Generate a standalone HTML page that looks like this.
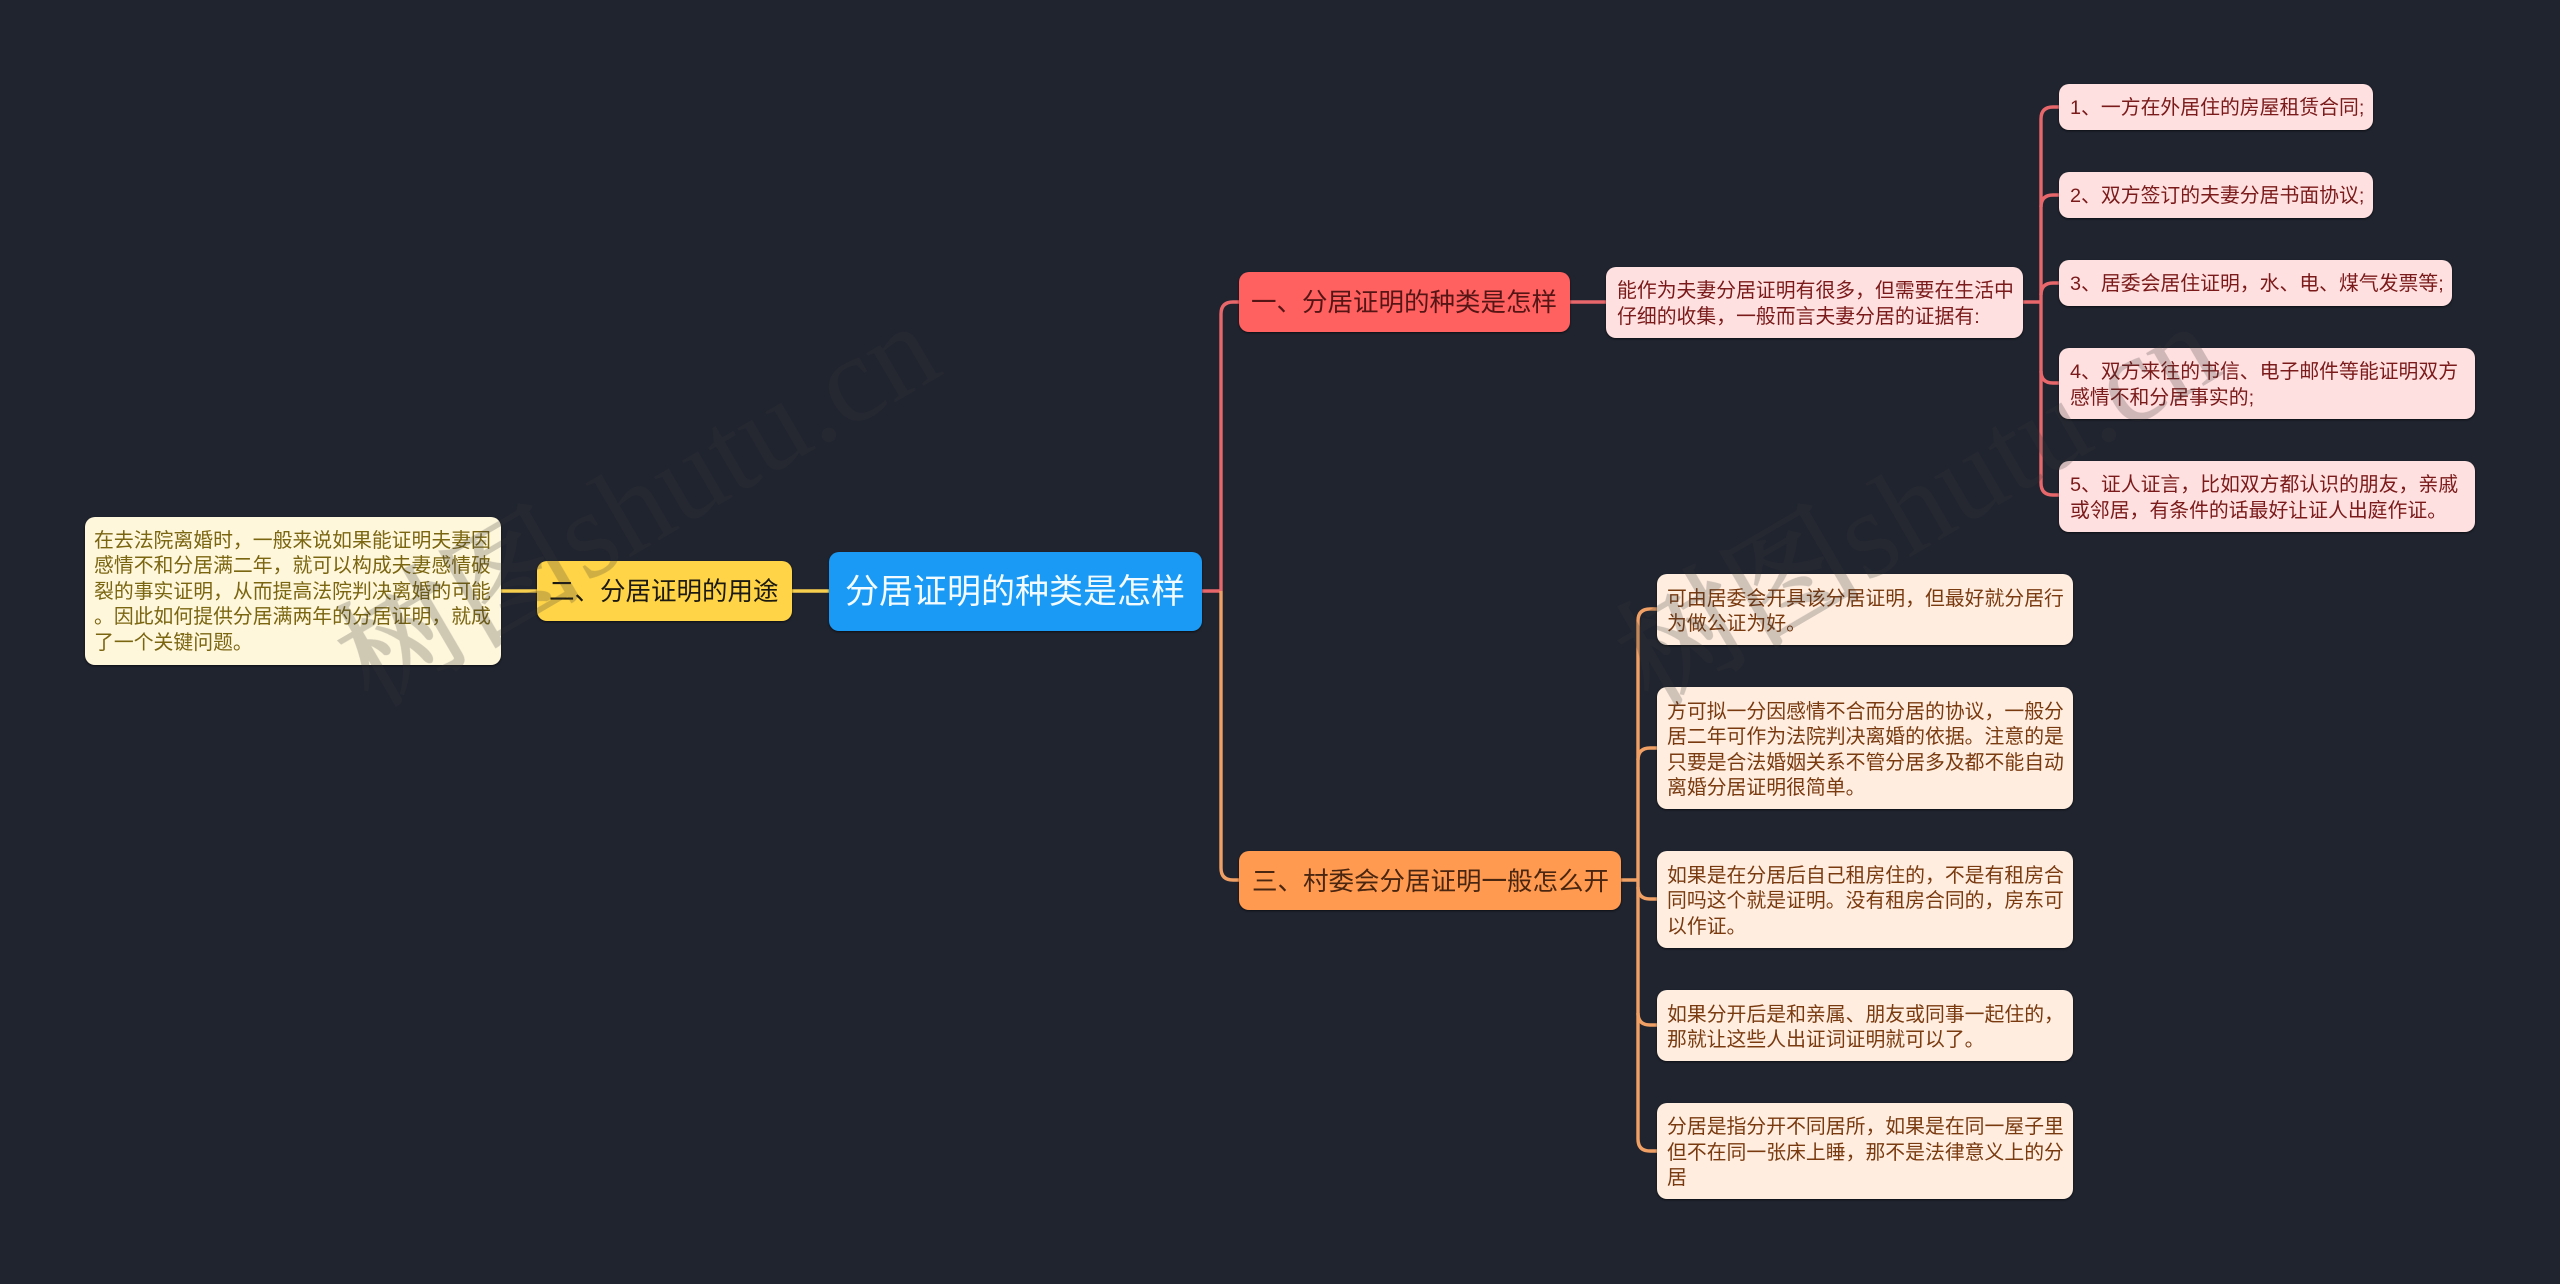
<!DOCTYPE html>
<html lang="zh"><head><meta charset="utf-8"><title>分居证明的种类是怎样</title>
<style>
html,body{margin:0;padding:0;background:#20242f;width:2560px;height:1284px;overflow:hidden}
#c{position:relative;width:2560px;height:1284px;background:#20242f;font-family:"Liberation Sans","Noto Sans CJK SC",sans-serif}
svg{position:absolute;left:0;top:0}
.n{position:absolute;box-sizing:border-box;border-radius:10px;white-space:nowrap;font-size:19.85px;line-height:25.4px;box-shadow:0 1px 2px rgba(0,0,0,.6)}
.t{display:flex;align-items:center;font-size:25.5px;line-height:30px;padding-top:2px}
.r{background:#ffe0e0;color:#7a1a1a;padding-left:11px;padding-top:4px;display:flex;align-items:center}
.o{background:#ffeee0;color:#7a3a10;padding-left:10px;padding-top:5px;display:flex;align-items:center}
</style></head><body><div id="c">
<svg width="2560" height="1284" fill="none" stroke-width="3.4">
<g stroke="#f7cf4f"><path d="M501 591H537M792 591H829"/></g>
<g stroke="#e7676b"><path d="M1202 591H1221"/><path d="M1239 302H1233Q1221 302 1221 314V591"/>
<path d="M1570 302H1606M2023 302H2041"/>
<path d="M2059 107H2053Q2041 107 2041 119V483Q2041 495 2053 495H2059"/>
<path d="M2059 195H2053Q2041 195 2041 207M2059 283H2053Q2041 283 2041 295M2059 383H2053Q2041 383 2041 371"/></g>
<g stroke="#f0a065"><path d="M1221 591V868Q1221 880 1233 880H1239"/>
<path d="M1621 880H1638"/>
<path d="M1657 609H1650Q1638 609 1638 621V1139Q1638 1151 1650 1151H1657"/>
<path d="M1657 748H1650Q1638 748 1638 760M1657 899H1650Q1638 899 1638 887M1657 1025H1650Q1638 1025 1638 1013"/></g>
</svg>

<div class="n t" style="left:829px;top:552px;width:373px;height:79px;background:#1b9af5;color:#f2fbff;font-size:34px;padding-left:16px;padding-top:0">分居证明的种类是怎样</div>
<div class="n t" style="left:537px;top:561px;width:255px;height:60px;background:#ffd447;color:#1c1a10;padding-left:12px">二、分居证明的用途</div>
<div class="n" style="left:85px;top:517px;width:416px;height:148px;background:#fff7dc;color:#7a6510;padding:12px 0 0 9px">在去法院离婚时，一般来说如果能证明夫妻因<br>感情不和分居满二年，就可以构成夫妻感情破<br>裂的事实证明，从而提高法院判决离婚的可能<br>。因此如何提供分居满两年的分居证明，就成<br>了一个关键问题。</div>

<div class="n t" style="left:1239px;top:272px;width:331px;height:60px;background:#ff6060;color:#561515;padding-left:12px">一、分居证明的种类是怎样</div>
<div class="n r" style="left:1606px;top:267px;width:417px;height:71px">能作为夫妻分居证明有很多，但需要在生活中<br>仔细的收集，一般而言夫妻分居的证据有:</div>
<div class="n r" style="left:2059px;top:84px;width:314px;height:46px">1、一方在外居住的房屋租赁合同;</div>
<div class="n r" style="left:2059px;top:172px;width:314px;height:46px">2、双方签订的夫妻分居书面协议;</div>
<div class="n r" style="left:2059px;top:260px;width:393px;height:46px">3、居委会居住证明，水、电、煤气发票等;</div>
<div class="n r" style="left:2059px;top:348px;width:416px;height:71px">4、双方来往的书信、电子邮件等能证明双方<br>感情不和分居事实的;</div>
<div class="n r" style="left:2059px;top:461px;width:416px;height:71px">5、证人证言，比如双方都认识的朋友，亲戚<br>或邻居，有条件的话最好让证人出庭作证。</div>

<div class="n t" style="left:1239px;top:851px;width:382px;height:59px;background:#ff9a50;color:#4a2610;padding-left:13px">三、村委会分居证明一般怎么开</div>
<div class="n o" style="left:1657px;top:574px;width:416px;height:71px">可由居委会开具该分居证明，但最好就分居行<br>为做公证为好。</div>
<div class="n o" style="left:1657px;top:687px;width:416px;height:122px">方可拟一分因感情不合而分居的协议，一般分<br>居二年可作为法院判决离婚的依据。注意的是<br>只要是合法婚姻关系不管分居多及都不能自动<br>离婚分居证明很简单。</div>
<div class="n o" style="left:1657px;top:851px;width:416px;height:97px">如果是在分居后自己租房住的，不是有租房合<br>同吗这个就是证明。没有租房合同的，房东可<br>以作证。</div>
<div class="n o" style="left:1657px;top:990px;width:416px;height:71px">如果分开后是和亲属、朋友或同事一起住的，<br>那就让这些人出证词证明就可以了。</div>
<div class="n o" style="left:1657px;top:1103px;width:416px;height:96px">分居是指分开不同居所，如果是在同一屋子里<br>但不在同一张床上睡，那不是法律意义上的分<br>居</div>

<svg width="2560" height="1284" style="pointer-events:none">
<g opacity=".24" fill="#383838" font-size="124" font-family="'Liberation Serif','Noto Serif CJK SC',serif">
<text transform="translate(372 708) rotate(-30.3)"><tspan stroke="#383838" stroke-width="2">树图</tspan>shutu.cn</text>
<text transform="translate(1652 708) rotate(-30.3)"><tspan stroke="#383838" stroke-width="2">树图</tspan>shutu.cn</text>
</g></svg>
</div></body></html>
